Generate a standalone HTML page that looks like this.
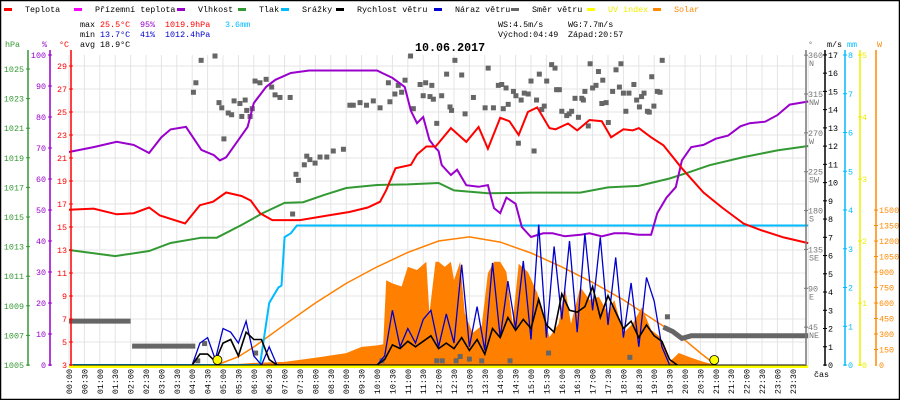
<!DOCTYPE html>
<html><head><meta charset="utf-8"><style>
html,body{margin:0;padding:0;background:#fff;}
svg{display:block;font-family:"Liberation Mono","DejaVu Sans Mono",monospace;}
</style></head><body>
<svg id="chart" width="900" height="400" viewBox="0 0 900 400" xmlns="http://www.w3.org/2000/svg">
<rect x="0.5" y="0.5" width="899" height="399" fill="#fff" stroke="#000" stroke-width="1.5"/>
<g id="grid"></g>
<g id="series"></g>
<g id="axes"></g>
<g id="legend" font-size="8.4"></g>
<g font-size="8.4">
<text x="80" y="27" fill="#000">max</text><text x="100" y="27" fill="#f00">25.5°C</text><text x="140" y="27" fill="#90c">95%</text><text x="165" y="27" fill="#f00">1019.9hPa</text><text x="225" y="27" fill="#0bf">3.6mm</text>
<text x="80" y="37" fill="#000">min</text><text x="100" y="37" fill="#00c">13.7°C</text><text x="140" y="37" fill="#00c">41%</text><text x="165" y="37" fill="#00c">1012.4hPa</text>
<text x="80" y="47" fill="#000">avg</text><text x="100" y="47" fill="#000">18.9°C</text>
<text x="498" y="27" fill="#000">WS:4.5m/s</text><text x="568" y="27" fill="#000">WG:7.7m/s</text>
<text x="498" y="37" fill="#000">Východ:04:49</text><text x="568" y="37" fill="#000">Západ:20:57</text>
</g>
<text x="415" y="51" font-size="11.7" font-weight="bold" fill="#000">10.06.2017</text>
</svg>
<script>
// ---- data ----
const tempT=[0,0.8,1.55,2.1,2.6,2.95,3.77,4.25,4.68,5.1,5.6,5.9,6.2,6.6,7.5,8.4,9.1,9.7,10.1,10.3,10.6,11.1,11.3,11.6,11.9,12.0,12.4,12.9,13.3,13.6,14.0,14.3,14.6,14.9,15.2,15.6,15.8,16.2,16.5,16.9,17.3,17.6,18.0,18.3,18.5,18.9,19.3,19.9,20.6,21.2,21.9,22.5,23.2,24];
const tempV=[16.5,16.6,16.1,16.2,16.7,16.0,15.3,16.9,17.2,18.0,17.7,17.3,16.2,15.6,15.6,16.0,16.3,16.7,17.2,18.2,20.1,20.4,21.3,22.0,22.0,22.3,23.6,22.4,23.7,21.8,24.5,24.2,23.0,25.0,25.4,23.6,23.5,24.0,23.4,24.3,24.2,22.8,23.5,23.4,23.6,22.8,22.1,20.1,18.0,16.7,15.3,14.7,14.1,13.6];
const humT=[0,0.8,1.55,2.1,2.6,3.0,3.3,3.8,4.3,4.7,4.9,5.1,5.5,5.8,6.0,6.4,6.7,7.2,7.8,10.0,10.5,10.9,11.1,11.3,11.5,11.7,11.9,12.0,12.1,12.4,12.6,12.9,13.3,13.6,13.8,14.0,14.2,14.5,14.7,15.0,15.4,15.7,16.1,16.6,16.9,17.3,17.7,18.1,18.5,18.9,19.1,19.4,19.7,19.9,20.2,20.6,21.0,21.4,21.8,22.1,22.6,23.0,23.4,24];
const humV=[68.7,70.3,72,71,68.4,73.5,76,76.8,69.4,67.7,66,67,72.6,76.8,84.5,89.7,92,94.2,95,95,92.6,89.7,82,78,80,72.6,70,69,64.5,61.3,63,58,57.5,58,50.6,49,54,52,44.5,41.3,42.5,42.5,41.5,42,42.5,41.5,42.5,42.5,42,42,49,54,57.4,66,70.3,71,73,74,77,78,78.5,80.6,84,85];
const presT=[0,1.5,2.6,3.3,4.3,4.8,5.6,6.3,7.0,7.6,8.3,9.0,10.0,11.0,12.0,12.5,13.6,15.0,16.6,17.5,18.5,19.5,20.1,20.8,21.9,23.0,24];
const presV=[1012.77,1012.36,1012.7,1013.24,1013.6,1013.6,1014.46,1015.27,1015.95,1016.0,1016.5,1016.96,1017.16,1017.2,1017.3,1016.8,1016.6,1016.65,1016.65,1017.0,1017.1,1017.6,1018.0,1018.5,1019.05,1019.5,1019.8];
const rainT=[0,6.2,6.5,6.8,6.9,7.0,7.2,7.4,24];
const rainV=[0,0,1.6,2.0,2.05,3.3,3.4,3.6,3.6];
const windT0=4.0, windStep=0.25;
const windSpeed=[0,0.6,0.6,0.2,1.2,1.4,0.5,1.8,1.4,1.4,0.3,0,0,0,0,0,0,0,0,0,0,0,0,0,0,0.3,1.1,0.9,1.3,1.0,1.3,1.6,0.9,1.2,0.9,1.5,0.8,1.4,0.6,2.0,1.5,2.6,1.9,2.5,2.0,3.6,2.2,1.8,3.9,3.0,2.9,3.2,4.3,2.6,3.8,2.9,2.0,2.4,1.5,2.2,1.6,1.3,0.3,0];
const windGust=[0,1.2,1.5,0.3,2.0,1.8,1.2,2.4,0.5,0,1.0,0,0,0,0,0,0,0,0,0,0,0,0,0,0,0.5,3.0,1.0,2.0,1.2,2.5,3.0,1.0,2.8,1.2,5.5,1.0,3.2,0.8,5.6,1.5,4.6,2.0,5.7,1.4,7.7,1.5,6.5,2.5,6.8,1.8,7.2,3.0,7.0,2.2,5.9,1.5,4.5,1.0,4.8,3.5,1.0,0,0];
const solarT=[4.8,5.0,6.0,7.0,8.0,9.0,9.5,10.0,10.2,10.3,10.5,10.8,11.0,11.3,11.6,11.7,11.9,12.0,12.2,12.4,12.5,12.7,12.85,13.1,13.4,13.6,13.8,14.0,14.2,14.4,14.6,14.9,15.2,15.4,15.6,15.9,16.1,16.3,16.6,16.9,17.2,17.5,17.7,18.0,18.3,18.6,18.9,19.2,19.5,19.8,20.2,20.6,21.0];
const solarW=[0,0,20,30,70,115,175,190,200,820,790,760,950,920,1000,500,1000,1000,950,1000,820,1000,500,310,380,890,1000,1000,900,400,980,900,700,480,270,400,755,400,755,630,660,500,630,310,400,560,340,270,30,116,70,30,0];
const sunT=[4.8,5.5,6,7,8,9,10,11,12,13,14,15,16,17,18,19,20,20.5,21];
const sunW=[0,80,174,390,600,790,950,1090,1200,1240,1190,1084,950,800,630,435,240,116,0];
const dirT=[4.04,4.12,4.29,4.74,4.87,4.96,5.03,5.17,5.28,5.36,5.55,5.61,5.72,5.77,5.88,5.95,6.04,6.20,6.40,6.58,6.69,6.85,7.18,7.26,7.37,7.45,7.64,7.72,7.82,7.99,8.15,8.37,8.58,8.91,9.12,9.23,9.45,9.66,9.88,10.10,10.37,10.42,10.58,10.69,10.80,10.91,11.09,11.18,11.40,11.50,11.58,11.72,11.78,11.83,11.94,12.10,12.26,12.37,12.42,12.53,12.75,12.86,13.13,13.51,13.61,13.78,13.94,14.05,14.10,14.19,14.26,14.43,14.51,14.59,14.68,14.78,14.91,15.00,15.10,15.18,15.27,15.35,15.43,15.51,15.67,15.78,15.83,15.92,16.00,16.16,16.24,16.32,16.43,16.54,16.65,16.70,16.75,16.86,16.92,17.00,17.11,17.19,17.30,17.33,17.44,17.51,17.65,17.76,17.87,17.92,18.00,18.08,18.18,18.34,18.43,18.52,18.59,18.67,18.78,18.84,18.92,18.99,19.10,19.19,19.26,19.43,4.18,4.40,6.06,10.16,11.94,12.12,12.57,12.70,13.00,13.40,14.32,15.57,18.21];
const dirDeg=[317,328,354,359,305,299,263,293,291,307,304,289,308,296,289,298,330,328,332,323,314,311,311,176,222,215,233,243,239,235,242,242,249,251,302,302,305,302,307,299,328,306,315,325,317,331,359,298,326,313,328,312,325,309,281,313,338,300,296,354,337,292,311,299,345,299,325,326,298,322,303,318,313,258,308,316,315,330,249,308,338,297,301,330,349,345,320,320,295,290,292,295,310,288,310,308,318,278,350,322,325,341,304,331,305,282,318,343,323,350,316,295,316,326,308,300,312,316,295,294,335,301,318,317,354,57,6,26,15,6,6,6,6,11,8,6,6,15,10];
const dirSegT=[0,2.0,null,2.05,4.1,null,19.3,19.6,19.9,20.2,24];
const dirSegDeg=[52,52,null,23,23,null,45,40,32,35,35];
const uvT=[0,24]; const uvV=[0,0];
const hpaTicks=[1025,1023,1021,1019,1017,1015,1013,1011,1009,1007,1005];
const humTicks=[100,90,80,70,60,50,40,30,20,10,0];
const tempTicks=[29,27,25,23,21,19,17,15,13,11,9,7,5,3];
const dirTicks=[360,315,270,225,180,135,90,45];
const dirNames=["N","NW","W","SW","S","SE","E","NE"];
const msTicks=[0,1,2,3,4,5,6,7,8,9,10,11,12,13,14,15,16,17];
const mmTicks=[0,1,2,3,4,5,6,7,8];
const uvTicks=[0,1,2,3,4,5];
const wTicks=[0,150,300,450,600,750,900,1050,1200,1350,1500];
const legendNames=["Teplota","Přízemní teplota","Vlhkost","Tlak","Srážky","Rychlost větru","Náraz větru","Směr větru","UV index","Solar"];
const legendColors=["#f00","#f0f","#90c","#393","#0bf","#000","#00c","#666","#ff0","#f80"];
// ---- scales ----
const X=t=>69+t*30.8;
const YT=v=>365-(v-3)*11.5;
const YH=v=>365-v*3.1;
const YP=v=>365-(v-1005)*14.8;
const YV=v=>365-v*18.24;
const YD=v=>366-v*0.8635;
const YR=v=>365-v*38.75;
const YU=v=>365-v*62;
const YW=v=>365-v*0.1033;
const NS="http://www.w3.org/2000/svg";
function mk(tag,parent,attrs){const e=document.createElementNS(NS,tag);for(const k in attrs)e.setAttribute(k,attrs[k]);parent.appendChild(e);return e;}
const grid=document.getElementById('grid'),ser=document.getElementById('series'),ax=document.getElementById('axes'),lg=document.getElementById('legend');
// grid
for(let i=0;i<=48;i++){const x=X(i*0.5);
 const l=mk('line',grid,{x1:x,x2:x,y1:55,y2:365,stroke:'#e4e4e4','stroke-width':1});
 
 
 if(i<48){const lab=['00','01','02','03','04','05','06','07','08','09','10','11','12','13','14','15','16','17','18','19','20','21','22','23'][Math.floor(i/2)]+(i%2?':30':':00');
  const tx=mk('text',ax,{x:0,y:0,'font-size':'8.4',fill:'#000','text-anchor':'end',transform:`translate(${x+3},369) rotate(-90)`});tx.textContent=lab;
  
  }
}
tempTicks.forEach(v=>{const l=mk('line',grid,{x1:71,x2:806,y1:YT(v),y2:YT(v),stroke:'#e4e4e4'});
 
 });
function path(parent,ts,vs,sx,sy,style,name){let d='';let pen=false;ts.forEach((t,i)=>{if(t===null){pen=false;return;}d+=(pen?'L':'M')+sx(t).toFixed(1)+' '+sy(vs[i]).toFixed(1);pen=true;});
 const p=mk('path',parent,Object.assign({d:d,fill:'none'},style));
 
 return p;}
// solar area
{let d='M'+X(solarT[0])+' 365';solarT.forEach((t,i)=>{d+='L'+X(t).toFixed(1)+' '+YW(solarW[i]).toFixed(1);});d+='L'+X(solarT[solarT.length-1])+' 365Z';
 const p=mk('path',ser,{d:d,fill:'#ff8000'});
 
 }
path(ser,sunT,sunW,X,YW,{stroke:'#ff8000','stroke-width':1.5},'solar-theoretical-line');
// direction
path(ser,dirSegT,dirSegDeg,X,YD,{stroke:'#666','stroke-width':5},'wind-direction-band');
dirT.forEach((t,i)=>{const r=mk('rect',ser,{x:X(t)-2.5,y:YD(dirDeg[i])-2.5,width:5,height:5,fill:'#666'});
 
 });
path(ser,rainT,rainV,X,YR,{stroke:'#0bf','stroke-width':2},'precipitation-line');
path(ser,presT,presV,X,YP,{stroke:'#393','stroke-width':2},'pressure-line');
path(ser,humT,humV,X,YH,{stroke:'#90c','stroke-width':2},'humidity-line');
path(ser,tempT,tempV,X,YT,{stroke:'#f00','stroke-width':2},'temperature-line');
const wT=windGust.map((_,i)=>windT0+i*windStep);
path(ser,wT,windGust,X,YV,{stroke:'#00c','stroke-width':1.3},'wind-gust-line');
path(ser,wT,windSpeed,X,YV,{stroke:'#000','stroke-width':1.6},'wind-speed-line');
path(ser,uvT,uvV,X,v=>366.5,{stroke:'#ff0','stroke-width':3},'uv-index-line');
{const l=mk('line',ser,{x1:71,x2:806,y1:365,y2:365,stroke:'#000','stroke-width':1});
 
 }
[4.82,20.95].forEach(t=>{const c=mk('circle',ser,{cx:X(t),cy:360,r:4.5,fill:'#ff0',stroke:'#000','stroke-width':0.8});
 
 });
// axes
function vaxis(x,col,ticks,sc,lx,anchor,name,fmt){
 const l=mk('line',ax,{x1:x,x2:x,y1:50,y2:366,stroke:col,'stroke-width':1.5});
 
 
 ticks.forEach((v,i)=>{const y=sc(v);mk('line',ax,{x1:x-2,x2:x+2,y1:y,y2:y,stroke:col});
  const t=mk('text',ax,{x:lx,y:y+3,'font-size':'8.4',fill:col,'text-anchor':anchor});t.textContent=fmt?fmt(v,i):v;
  
  });}
vaxis(28,'#393',hpaTicks,YP,24,'end','pressure-axis');
vaxis(50,'#90c',humTicks,YH,46,'end','humidity-axis');
vaxis(71,'#f00',tempTicks,YT,67,'end','temperature-axis');
vaxis(806,'#777',dirTicks,YD,808,'start','direction-axis');
dirTicks.forEach((v,i)=>{const t=mk('text',ax,{x:809,y:YD(v)+11,'font-size':'8.4',fill:'#777'});t.textContent=dirNames[i];
 
 });
vaxis(825,'#000',msTicks,YV,828,'start','wind-speed-axis');
vaxis(845,'#0bf',mmTicks,YR,848,'start','precipitation-axis');
vaxis(860,'#ee0',uvTicks,YU,862,'start','uv-axis');
vaxis(876,'#f80',wTicks.slice(1),YW,879,'start','solar-axis');
{const t=mk('text',ax,{x:879,y:368,'font-size':'8.4',fill:'#f80'});t.textContent='0';
 
 }
[['hPa',5,'#393'],['%',42,'#90c'],['°C',59,'#f00'],['°',808,'#777'],['m/s',827,'#000'],['mm',847,'#0bf'],['W',877,'#f80']].forEach(a=>{
 const t=mk('text',ax,{x:a[1],y:47,'font-size':'8.4',fill:a[2]});t.textContent=a[0];
 
 });
{const t=mk('text',ax,{x:814,y:377,'font-size':'8.4',fill:'#000'});t.textContent='čas';
 
 }
// legend
const lx=[3,73,176,237,280,335,433,510,586,652];
legendNames.forEach((n,i)=>{const g=mk('g',lg,{});
 
 
 mk('rect',g,{x:lx[i]+1,y:8,width:8,height:3,fill:legendColors[i]});
 const t=mk('text',g,{x:lx[i]+22,y:12,fill:(i===8?'#ee0':i===9?'#f80':'#000')});t.textContent=n;});
</script>
</body></html>
